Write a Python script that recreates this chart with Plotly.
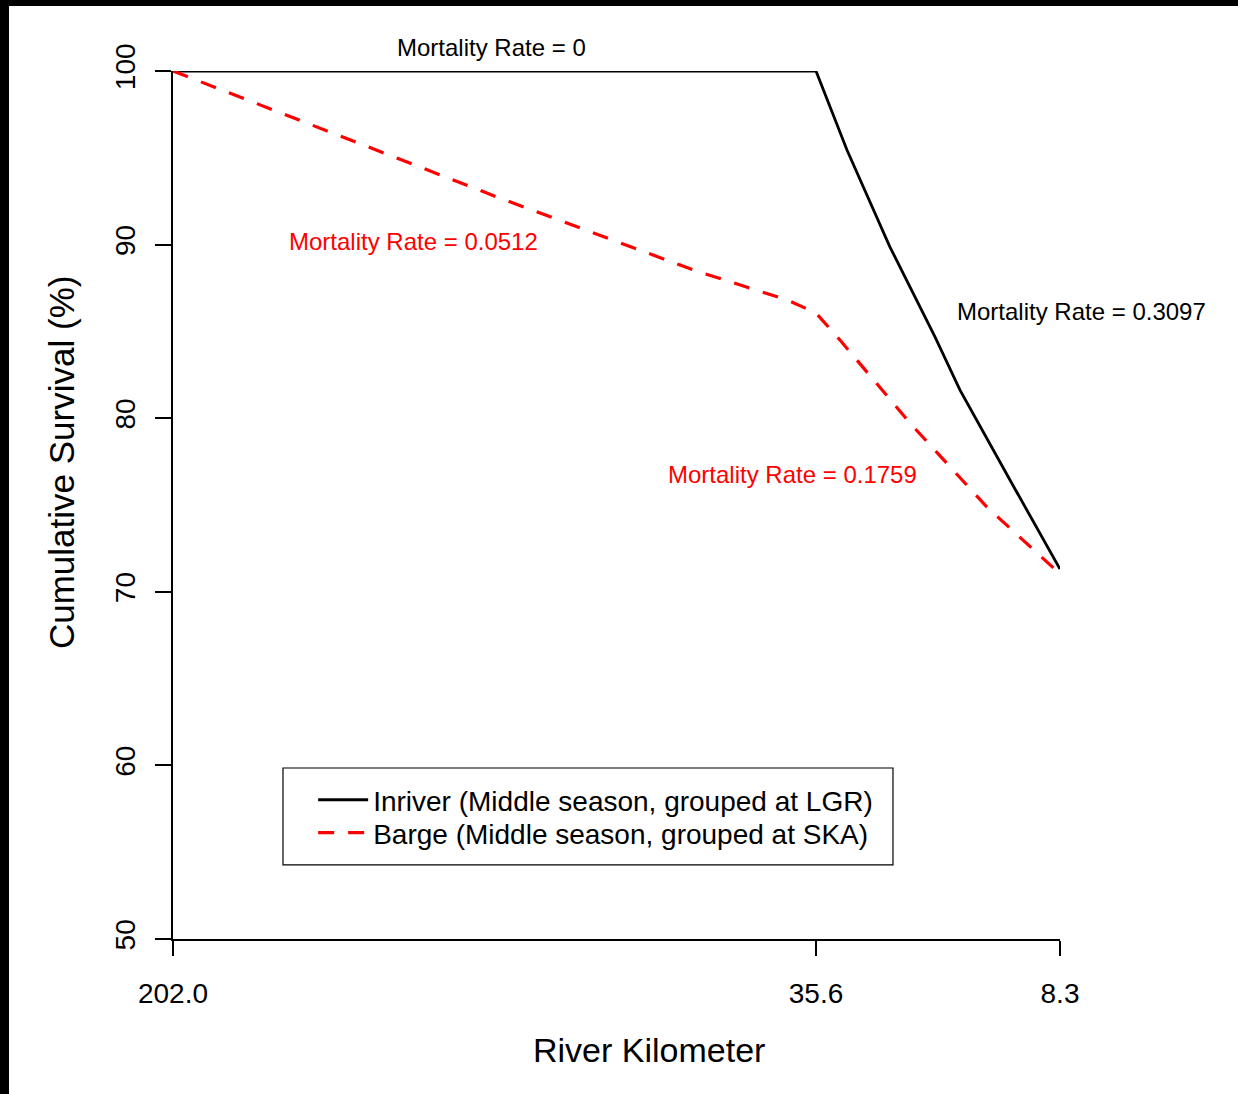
import plotly.graph_objects as go

# ---- data ----
site_labels = ["202.0", "35.6", "8.3"]          # river kilometer tick labels
site_pos = [0.0, 1.0, 1.3795]                   # plotting position of each site
y_ticks = [50, 60, 70, 80, 90, 100]

inriver_x = [0.0, 1.0, 1.0482, 1.1151, 1.1851, 1.2240, 1.3017, 1.3795]
inriver_y = [100, 100, 95.45, 89.86, 84.68, 81.62, 76.44, 71.31]

barge_x = [0.0, 0.252, 0.504, 0.809, 0.955, 1.0, 1.0373, 1.1462, 1.2659, 1.3795]
barge_y = [100, 96.37, 92.74, 88.54, 86.81, 86.06, 84.50, 79.72, 74.88, 71.03]

inriver_name = "Inriver (Middle season, grouped at LGR)"
barge_name = "Barge (Middle season, grouped at SKA)"

notes_text = ["Mortality Rate = 0", "Mortality Rate = 0.0512",
              "Mortality Rate = 0.3097", "Mortality Rate = 0.1759"]
notes_x = [0.3596, 0.2717, 1.0248, 0.6979]      # paper coordinates
notes_y = [1.0276, 0.8041, 0.7235, 0.5357]
notes_color = ["black", "red", "black", "red"]

x_title = "River Kilometer"
y_title = "Cumulative Survival (%)"

FONT = "Liberation Sans, Arial, sans-serif"

fig = go.Figure()
fig.add_trace(go.Scatter(x=inriver_x, y=inriver_y, mode="lines", name=inriver_name,
                         line=dict(color="black", width=2.8), cliponaxis=False,
                         legend="legend"))
fig.add_trace(go.Scatter(x=barge_x, y=barge_y, mode="lines", name=barge_name,
                         line=dict(color="red", width=3.2, dash="16px,14px"), cliponaxis=False,
                         legend="legend2"))

for t, x, y, c in zip(notes_text, notes_x, notes_y, notes_color):
    fig.add_annotation(x=x, y=y, xref="paper", yref="paper", text=t, showarrow=False,
                       xanchor="center", yanchor="middle",
                       font=dict(family=FONT, size=24, color=c))

# axis titles (placed as in the reference)
fig.add_annotation(x=0.5366, y=-0.1279, xref="paper", yref="paper", text=x_title,
                   showarrow=False, xanchor="center", yanchor="middle",
                   font=dict(family=FONT, size=34, color="black"))
fig.add_annotation(x=-0.1251, y=0.5484, xref="paper", yref="paper", text=y_title,
                   showarrow=False, xanchor="center", yanchor="middle", textangle=-90,
                   font=dict(family=FONT, size=35, color="black"))

shapes = [
    # legend box
    dict(type="rect", xref="paper", yref="paper", x0=0.1240, x1=0.8117, y0=0.0853, y1=0.1970,
         line=dict(color="black", width=1.2), fillcolor="rgba(0,0,0,0)"),
    # outer black frame (left & top)
    dict(type="rect", xref="paper", yref="paper", x0=-1, x1=-0.1849, y0=-1, y1=2,
         line=dict(width=0), fillcolor="black", layer="above"),
    dict(type="rect", xref="paper", yref="paper", x0=-1, x1=2, y0=1.0749, y1=2,
         line=dict(width=0), fillcolor="black", layer="above"),
]

leg_common = dict(xanchor="left", yanchor="middle", bgcolor="rgba(0,0,0,0)", borderwidth=0,
                  font=dict(family=FONT, size=28, color="black"), itemwidth=50)

fig.update_layout(
    width=1238, height=1094,
    margin=dict(l=173, r=178, t=71, b=155),
    paper_bgcolor="white", plot_bgcolor="white",
    font=dict(family=FONT, color="black"),
    shapes=shapes,
    showlegend=True,
    legend=dict(x=0.158, y=0.1601, **leg_common),
    legend2=dict(x=0.158, y=0.1221, **leg_common),
    xaxis=dict(range=[0, 1.3795], tickvals=site_pos, ticktext=site_labels,
               showline=True, linecolor="black", linewidth=1.5, showgrid=False, zeroline=False,
               ticks="outside", ticklen=15, tickwidth=1.5, tickcolor="black",
               ticklabelstandoff=14,
               tickfont=dict(family=FONT, size=28, color="black")),
    yaxis=dict(range=[50, 100], tickvals=y_ticks,
               showline=True, linecolor="black", linewidth=1.5, showgrid=False, zeroline=False,
               ticks="outside", ticklen=16, tickwidth=1.5, tickcolor="black", tickangle=-90,
               ticklabelstandoff=9,
               tickfont=dict(family=FONT, size=28, color="black")),
)

fig.write_html("out.html", config={"displayModeBar": False},
               post_script="document.body.style.margin='0px';")
